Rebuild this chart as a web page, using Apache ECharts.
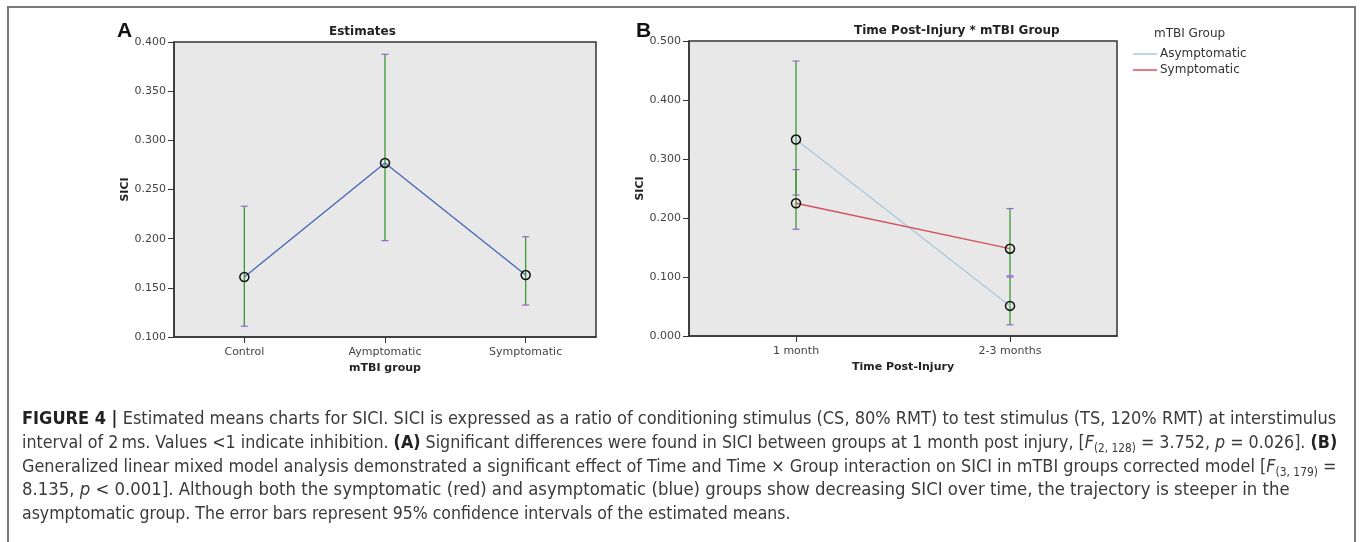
<!DOCTYPE html>
<html lang="en">
<head>
<meta charset="UTF-8">
<title>Figure 4 - SICI estimated means</title>
<script src="https://cdn.jsdelivr.net/npm/echarts@6/dist/echarts.min.js"></script>
<style>
    body { margin: 0; background: #fff; }
    #chart { position: absolute; left: 0; top: 0; width: 1360px; height: 542px; }
    #frame {
        position: absolute; left: 7px; top: 6px; width: 1345px; height: 600px;
        border: 2px solid #7a7a7a; border-bottom: none;
    }
    #caption {
        position: absolute; left: 22px; top: 406px;
        font-family: "Liberation Sans Narrow", "DejaVu Sans Condensed", sans-serif;
        font-size: 18px; line-height: 23.8px; color: #3a3a3a;
        white-space: nowrap;
    }
    #caption div { transform-origin: left center; }
    #caption b { color: #222; }
    sub { font-size: 12px; line-height: 0; vertical-align: -4px; }
</style>
</head>
<body>
<div id="frame"></div>
<div id="chart"></div>
<div id="caption">
<div style="transform: scaleX(1)"><b>FIGURE 4 |</b> Estimated means charts for SICI. SICI is expressed as a ratio of conditioning stimulus (CS, 80% RMT) to test stimulus (TS, 120% RMT) at interstimulus</div>
<div style="transform: scaleX(0.983)">interval of 2&#8201;ms. Values &lt;1 indicate inhibition. <b>(A)</b> Significant differences were found in SICI between groups at 1 month post injury, [<i>F</i><sub>(2, 128)</sub> = 3.752, <i>p</i> = 0.026]. <b>(B)</b></div>
<div style="transform: scaleX(0.993)">Generalized linear mixed model analysis demonstrated a significant effect of Time and Time &times; Group interaction on SICI in mTBI groups corrected model [<i>F</i><sub>(3, 179)</sub> =</div>
<div style="transform: scaleX(1.02)">8.135, <i>p</i> &lt; 0.001]. Although both the symptomatic (red) and asymptomatic (blue) groups show decreasing SICI over time, the trajectory is steeper in the</div>
<div style="transform: scaleX(0.973)">asymptomatic group. The error bars represent 95% confidence intervals of the estimated means.</div>
</div>

<script>
    // panel A: estimates by mTBI group
    const groupsA = ['Control', 'Aymptomatic', 'Symptomatic'];
    const meanA = [0.161, 0.277, 0.163];
    const lowA = [0.111, 0.198, 0.1325];
    const highA = [0.233, 0.3875, 0.202];

    // panel B: time post-injury * mTBI group
    const timesB = ['1 month', '2-3 months'];
    const asymMean = [0.333, 0.051];
    const asymLow = [0.239, 0.019];
    const asymHigh = [0.466, 0.100];
    const sympMean = [0.225, 0.148];
    const sympLow = [0.181, 0.102];
    const sympHigh = [0.282, 0.216];

    const asymColor = '#a8c9de';
    const sympColor = '#d5505c';

    const chart = echarts.init(document.getElementById('chart'));
    const font = '"DejaVu Sans", sans-serif';

    function errRender(params, api) {
        const x = api.value(0);
        const lo = api.coord([x, api.value(1)]);
        const hi = api.coord([x, api.value(2)]);
        const w = 3.5;
        const cap = { stroke: '#9a62cf', lineWidth: 1.2 };
        return {
            type: 'group',
            children: [
                { type: 'line', shape: { x1: lo[0], y1: lo[1], x2: hi[0], y2: hi[1] }, style: { stroke: '#3d9a34', lineWidth: 1.3 } },
                { type: 'line', shape: { x1: lo[0] - w, y1: lo[1], x2: lo[0] + w, y2: lo[1] }, style: cap },
                { type: 'line', shape: { x1: hi[0] - w, y1: hi[1], x2: hi[0] + w, y2: hi[1] }, style: cap }
            ]
        };
    }

    function errData(lo, hi) {
        return lo.map((v, i) => [i, v, hi[i]]);
    }

    const marker = {
        symbol: 'circle',
        symbolSize: 9,
        itemStyle: { color: 'rgba(0,0,0,0)', borderColor: '#111', borderWidth: 1.5 }
    };

    function yAxis(idx, min, max, step) {
        return {
            type: 'value', gridIndex: idx, min: min, max: max, interval: step,
            name: 'SICI', nameLocation: 'middle', nameGap: 42,
            nameTextStyle: { fontFamily: font, fontWeight: 'bold', fontSize: 11, color: '#222' },
            axisLine: { show: true, lineStyle: { color: '#333', width: 1.5 } },
            axisTick: { show: true, length: 6, lineStyle: { color: '#333' } },
            axisLabel: { fontFamily: font, fontSize: 11, color: '#444', margin: 8,
                formatter: v => v.toFixed(3) },
            splitLine: { show: false }
        };
    }

    function xAxis(idx, cats, name) {
        return {
            type: 'category', gridIndex: idx, data: cats, boundaryGap: true,
            name: name, nameLocation: 'middle', nameGap: 25,
            nameTextStyle: { fontFamily: font, fontWeight: 'bold', fontSize: 11, color: '#222' },
            axisLine: { show: true, lineStyle: { color: '#333', width: 1.5 } },
            axisTick: { show: true, alignWithLabel: true, length: 6, lineStyle: { color: '#333' } },
            axisLabel: { fontFamily: font, fontSize: 11, color: '#444', margin: 10 },
            splitLine: { show: false }
        };
    }

    const option = {
        animation: false,
        title: [
            { text: 'Estimates', left: 324, top: 21, textStyle: { fontFamily: font, fontSize: 12, fontWeight: 'bold', color: '#222' } },
            { text: 'Time Post-Injury * mTBI Group', left: 849, top: 20, textStyle: { fontFamily: font, fontSize: 12, fontWeight: 'bold', color: '#222' } },
            { text: 'A', left: 112, top: 16, textStyle: { fontFamily: '"Liberation Sans", sans-serif', fontSize: 21, fontWeight: 'bold', color: '#111' } },
            { text: 'B', left: 631, top: 16, textStyle: { fontFamily: '"Liberation Sans", sans-serif', fontSize: 21, fontWeight: 'bold', color: '#111' } },
            { text: 'mTBI Group', left: 1149, top: 23, textStyle: { fontFamily: font, fontSize: 12, fontWeight: 'normal', color: '#333' } }
        ],
        legend: {
            data: [
                { name: 'Asymptomatic', itemStyle: { color: asymColor, borderWidth: 0 } },
                { name: 'Symptomatic', itemStyle: { color: sympColor, borderWidth: 0 } }
            ],
            orient: 'vertical', left: 1133, top: 48, padding: 0,
            icon: 'rect', itemWidth: 24, itemHeight: 1.5, itemGap: 4,
            textStyle: { fontFamily: font, fontSize: 12, color: '#333', padding: [0, 0, 0, -2] }
        },
        grid: [
            { left: 174, top: 42, width: 422, height: 295, show: true, backgroundColor: '#e8e8e8', borderColor: '#333', borderWidth: 1.5 },
            { left: 689, top: 41, width: 428, height: 295, show: true, backgroundColor: '#e8e8e8', borderColor: '#333', borderWidth: 1.5 }
        ],
        xAxis: [xAxis(0, groupsA, 'mTBI group'), xAxis(1, timesB, 'Time Post-Injury')],
        yAxis: [yAxis(0, 0.1, 0.4, 0.05), yAxis(1, 0, 0.5, 0.1)],
        series: [
            { type: 'custom', xAxisIndex: 0, yAxisIndex: 0, renderItem: errRender, data: errData(lowA, highA), z: 2 },
            Object.assign({ type: 'line', name: 'Estimates', xAxisIndex: 0, yAxisIndex: 0, data: meanA,
                lineStyle: { color: '#4266b8', width: 1.3 }, z: 3 }, marker),
            { type: 'custom', xAxisIndex: 1, yAxisIndex: 1, renderItem: errRender, data: errData(asymLow, asymHigh), z: 2 },
            { type: 'custom', xAxisIndex: 1, yAxisIndex: 1, renderItem: errRender, data: errData(sympLow, sympHigh), z: 2 },
            Object.assign({ type: 'line', name: 'Asymptomatic', xAxisIndex: 1, yAxisIndex: 1, data: asymMean,
                lineStyle: { color: asymColor, width: 1.3 }, z: 3 }, marker),
            Object.assign({ type: 'line', name: 'Symptomatic', xAxisIndex: 1, yAxisIndex: 1, data: sympMean,
                lineStyle: { color: sympColor, width: 1.3 }, z: 3 }, marker)
        ]
    };

    chart.setOption(option);
</script>
</body>
</html>
